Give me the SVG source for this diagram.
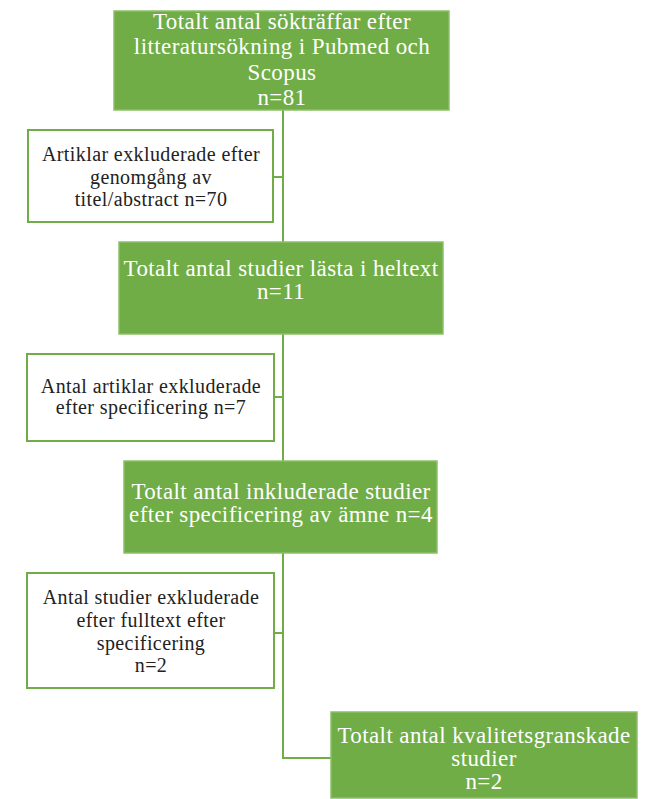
<svg xmlns="http://www.w3.org/2000/svg" width="647" height="799" viewBox="0 0 647 799">
<style>
.g{fill:#70AD47;stroke:#8CC068;stroke-width:1.5}
.w{fill:#fff;stroke:#70AD47;stroke-width:2}
.tg{font-family:"Liberation Serif",serif;fill:#fff;text-anchor:middle;font-size:23px;letter-spacing:0.4px}
.tw{font-family:"Liberation Serif",serif;fill:#222;text-anchor:middle;font-size:20px;letter-spacing:0.4px}
.c{fill:none;stroke:#70AD47;stroke-width:2}
</style>
<g id="connectors">
<path class="c" d="M283 110 V242 M273 177 H283 M283 334 V461 M274 397 H283 M283 553 V758 H331 M274 633 H283"/>
</g>
<g id="n1">
<rect class="g" x="114" y="11" width="335" height="99"/>
<text class="tg" x="282" y="29">Totalt antal sökträffar efter</text>
<text class="tg" x="282" y="54">litteratursökning i Pubmed och</text>
<text class="tg" x="282" y="80">Scopus</text>
<text class="tg" x="282" y="105">n=81</text>
</g>
<g id="n2">
<rect class="w" x="28" y="130" width="245" height="92"/>
<text class="tw" x="151" y="161">Artiklar exkluderade efter</text>
<text class="tw" x="151" y="184">genomgång av</text>
<text class="tw" x="151" y="206">titel/abstract n=70</text>
</g>
<g id="n3">
<rect class="g" x="119" y="242" width="324" height="92"/>
<text class="tg" x="281" y="276">Totalt antal studier lästa i heltext</text>
<text class="tg" x="281" y="299">n=11</text>
</g>
<g id="n4">
<rect class="w" x="27" y="354" width="247" height="87"/>
<text class="tw" x="151" y="393">Antal artiklar  exkluderade</text>
<text class="tw" x="151" y="414">efter specificering n=7</text>
</g>
<g id="n5">
<rect class="g" x="124" y="461" width="313" height="92"/>
<text class="tg" x="281" y="499">Totalt antal inkluderade studier</text>
<text class="tg" x="281" y="522">efter specificering av ämne n=4</text>
</g>
<g id="n6">
<rect class="w" x="27" y="573" width="247" height="115"/>
<text class="tw" x="151" y="604">Antal studier exkluderade</text>
<text class="tw" x="151" y="627">efter fulltext  efter</text>
<text class="tw" x="151" y="650">specificering</text>
<text class="tw" x="151" y="672">n=2</text>
</g>
<g id="n7">
<rect class="g" x="331" y="712" width="306" height="86"/>
<text class="tg" x="484" y="743">Totalt antal kvalitetsgranskade</text>
<text class="tg" x="484" y="766">studier</text>
<text class="tg" x="484" y="789">n=2</text>
</g>
</svg>
